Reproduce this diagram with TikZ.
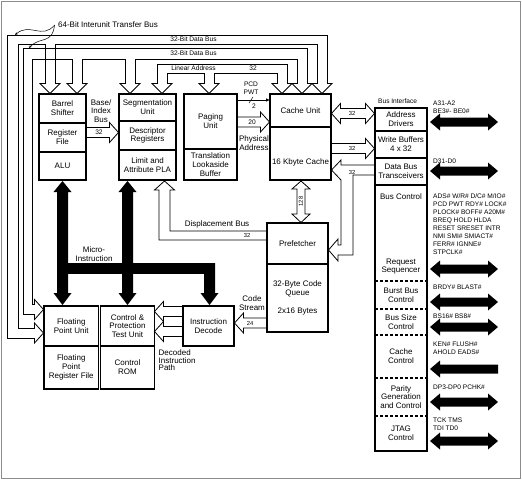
\documentclass[tikz,border=0pt]{standalone}
\usepackage{fontspec}
\setmainfont{Liberation Sans}
\usetikzlibrary{arrows.meta}

\newcommand{\lbl}{\fontsize{8}{8.8}\selectfont}
\newcommand{\sml}{\fontsize{6.6}{8.1}\selectfont}
\newcommand{\tny}{\fontsize{5.8}{6.5}\selectfont}

% hollow bus arrows, all numbers in px of the sheet
\newcommand{\headdown}[2]{\draw[bus] (#1-5,#2-10) -- (#1-10,#2-10) -- (#1,#2) -- (#1+10,#2-10) -- (#1+5,#2-10);}
\newcommand{\hright}[3]{\draw[bus] (#1,#3-5) -- (#2-9,#3-5) -- (#2-9,#3-10) -- (#2,#3) -- (#2-9,#3+10) -- (#2-9,#3+5) -- (#1,#3+5);}
\newcommand{\hleft}[3]{\draw[bus] (#1,#3-5) -- (#2+9,#3-5) -- (#2+9,#3-10) -- (#2,#3) -- (#2+9,#3+10) -- (#2+9,#3+5) -- (#1,#3+5);}
\newcommand{\hboth}[3]{\draw[bus] (#1,#3) -- (#1+9,#3-10) -- (#1+9,#3-5) -- (#2-9,#3-5) -- (#2-9,#3-10) -- (#2,#3) -- (#2-9,#3+10) -- (#2-9,#3+5) -- (#1+9,#3+5) -- (#1+9,#3+10) -- cycle;}
% black pin arrows
\newcommand{\sigboth}[1]{\fill (430,#1) -- (440,#1-8.5) -- (440,#1-4.5) -- (488,#1-4.5) -- (488,#1-8.5) -- (498,#1) -- (488,#1+8.5) -- (488,#1+4.5) -- (440,#1+4.5) -- (440,#1+8.5) -- cycle;}
\newcommand{\sigin}[1]{\fill (430,#1) -- (440,#1-8.5) -- (440,#1-4.5) -- (498,#1-4.5) -- (498,#1+4.5) -- (440,#1+4.5) -- (440,#1+8.5) -- cycle;}

\begin{document}
\begin{tikzpicture}[x=1pt,y=-1pt,
  box/.style={draw,line width=1.2pt,inner sep=0pt,outer sep=0pt,anchor=north west,align=center,font=\lbl},
  cell/.style={inner sep=0pt,outer sep=0pt,anchor=north west,align=center,font=\lbl},
  bus/.style={line width=0.8pt},
  sig/.style={font=\sml,anchor=west,align=left,inner sep=0pt}]

\useasboundingbox (0,0) rectangle (522,480);
\draw[black!45,line width=0.8pt] (1.5,1.5) rectangle (520.5,478.5);

% core units
\node[box,minimum width=47pt,minimum height=29pt] (barrel) at (39,94) {Barrel\\Shifter};
\node[box,minimum width=47pt,minimum height=29pt] (regfile) at (39,123) {Register\\File};
\node[box,minimum width=47pt,minimum height=28pt] (alu) at (39,152) {ALU};
\node[box,minimum width=57pt,minimum height=27pt] (seg) at (119,94) {Segmentation\\Unit};
\node[box,minimum width=57pt,minimum height=29pt] (desc) at (119,121) {Descriptor\\Registers};
\node[box,minimum width=57pt,minimum height=30pt] (pla) at (119,150) {Limit and\\Attribute PLA};
\node[box,minimum width=53pt,minimum height=55pt] (paging) at (184,94) {Paging\\Unit};
\node[box,minimum width=53pt,minimum height=31pt] (tlb) at (184,149) {Translation\\Lookaside\\Buffer};
\node[box,minimum width=61pt,minimum height=33pt] (cacheu) at (270,94) {Cache Unit};
\node[box,minimum width=61pt,minimum height=53pt] (cachek) at (270,127) {};
\node[font=\lbl] (cachektxt) at (300.5,162) {16 Kbyte Cache};
\node[box,minimum width=61pt,minimum height=41pt] (pref) at (267,223) {Prefetcher};
\node[box,minimum width=61pt,minimum height=68pt] (queue) at (267,264) {32-Byte Code\\Queue\\[10pt]2x16 Bytes};
\node[box,minimum width=54.5pt,minimum height=40pt] (fpu) at (44,306) {Floating\\Point Unit};
\node[box,minimum width=54.5pt,minimum height=43pt] (fprf) at (44,346) {Floating\\Point\\Register File};
\node[box,minimum width=54pt,minimum height=40pt] (cptu) at (100.5,306) {Control \&\\Protection\\Test Unit};
\node[box,minimum width=54pt,minimum height=43pt] (crom) at (100.5,346) {Control\\ROM};
\node[box,minimum width=51pt,minimum height=40pt] (idec) at (183,306) {Instruction\\Decode};

% bus interface column
\node[font=\sml,anchor=west,inner sep=0pt] (biu) at (378,101) {Bus Interface};
\node[cell,minimum width=52pt,minimum height=23pt] (addr) at (375,108) {Address\\Drivers};
\node[cell,minimum width=52pt,minimum height=27pt] (wbuf) at (375,131) {Write Buffers\\4 x 32};
\node[cell,minimum width=52pt,minimum height=27pt] (dbt) at (375,158) {Data Bus\\Transceivers};
\node[font=\lbl] (busctl) at (401,197) {Bus Control};
\node[font=\lbl,align=center] (reqseq) at (401,266.5) {Request\\Sequencer};
\node[cell,minimum width=52pt,minimum height=28pt] (burst) at (375,281) {Burst Bus\\Control};
\node[cell,minimum width=52pt,minimum height=26pt] (bsize) at (375,309) {Bus Size\\Control};
\node[cell,minimum width=52pt,minimum height=43pt] (cctl) at (375,335) {Cache\\Control};
\node[cell,minimum width=52pt,minimum height=38pt] (parity) at (375,378) {Parity\\Generation\\and Control};
\node[cell,minimum width=52pt,minimum height=35pt] (jtag) at (375,416) {JTAG\\Control};
\draw[line width=1.2pt] (375,108) rectangle (427,451);
\foreach \y in {131,158,185}
  \draw[line width=1.2pt] (375,\y) -- (427,\y);
\foreach \y in {281,309,335,378,416}
  \draw[line width=1.2pt,dash pattern=on 3pt off 2pt] (375,\y) -- (427,\y);

% pins
\node[sig] (pa) at (433,107) {A31-A2\\BE3\#- BE0\#};
\node[sig] (pd) at (433,161) {D31-D0};
\node[sig] (pc) at (433,224) {ADS\# W/R\# D/C\# M/IO\#\\PCD PWT RDY\# LOCK\#\\PLOCK\# BOFF\# A20M\#\\BREQ HOLD HLDA\\RESET SRESET INTR\\NMI SMI\# SMIACT\#\\FERR\# IGNNE\#\\STPCLK\#};
\node[sig] (pb) at (433,287) {BRDY\# BLAST\#};
\node[sig] (ps) at (433,316) {BS16\# BS8\#};
\node[sig] (pk) at (433,348.5) {KEN\# FLUSH\#\\AHOLD EADS\#};
\node[sig] (pp) at (433,387) {DP3-DP0 PCHK\#};
\node[sig] (pj) at (433,424) {TCK TMS\\TDI TD0};
\foreach \y in {122,171,269,302,327,402,441} {\sigboth{\y}}
\sigin{369}

% 64-bit interunit transfer bus
\node[font=\lbl] (ibus) at (108,25) {64-Bit Interunit Transfer Bus};
\draw[-{Stealth[length=3pt,width=2.5pt]},line width=0.5pt] (ibus.west) .. controls (42,40) and (30,22) .. (15,35);
\draw[-{Stealth[length=3pt,width=2.5pt]},line width=0.5pt] (ibus.west) .. controls (52,45) and (40,36) .. (29,48);
\draw[bus] (34.5,338) -- (7,338) -- (7,35) -- (327,35) -- (327,83.5);
\draw[bus] (34.5,328) -- (18,328) -- (18,44) -- (45,44) -- (45,83.5);
\draw[bus] (55,83.5) -- (55,44) -- (317,44) -- (317,83.5);
\draw[bus] (34.5,338) -- (34.5,343) -- (43.5,333) -- (34.5,323) -- (34.5,328);
\draw[bus] (34.5,314.5) -- (23,314.5) -- (23,48) -- (307,48) -- (307,83.5);
\draw[bus] (34.5,304.5) -- (32,304.5) -- (32,59) -- (72,59) -- (72,83.5);
\draw[bus] (82,83.5) -- (82,59) -- (125,59) -- (125,83.5);
\draw[bus] (135,83.5) -- (135,59) -- (297,59) -- (297,83.5);
\draw[bus] (34.5,314.5) -- (34.5,319.5) -- (43.5,309.5) -- (34.5,299.5) -- (34.5,304.5);
\node[font=\sml] (dbus1) at (193.5,39.5) {32-Bit Data Bus};
\node[font=\sml] (dbus2) at (193.5,53.5) {32-Bit Data Bus};

% linear address bus
\draw[bus] (157,83.5) -- (157,64) -- (287,64) -- (287,83.5);
\draw[bus] (167,83.5) -- (167,73) -- (204,73) -- (204,83.5);
\draw[bus] (214,83.5) -- (214,73) -- (277,73) -- (277,83.5);
\node[font=\sml] (lin) at (193.5,68.5) {Linear Address};
\node[font=\sml] (lin32) at (253,68.5) {32};
\foreach \c in {50,77,130,162,209,282,302,322} {\headdown{\c}{93.5}}

% paging to cache
\node[font=\sml,align=center] (pcd) at (251,88) {PCD\\PWT};
\draw[-{Latex[length=4pt,width=3.5pt]},line width=0.6pt] (paging.east |- 0,100) -- (cacheu.west |- 0,100);
\draw[line width=0.5pt] (249,103) -- (253,97);
\node[font=\sml] (pcd2) at (254,106) {2};
\hright{237}{269.5}{122}
\node[font=\sml] (pa20) at (252,122) {20};
\node[font=\lbl,align=center] (phys) at (254,143.5) {Physical\\Address};

% base/index bus
\hright{86}{118.5}{132.5}
\node[font=\sml] (bi32) at (99,132.5) {32};
\node[font=\lbl,align=center] (bibus) at (101,111) {Base/\\Index\\Bus};

% cache to bus interface
\hboth{331.5}{374.5}{113.5}
\node[font=\tny] (c32a) at (352,113.5) {32};
\hright{331}{374.5}{148.5}
\node[font=\tny] (c32b) at (352,148.5) {32};
\draw[bus] (374.5,165) -- (341,165) -- (341,160) -- (331.5,170) -- (341,180) -- (341,245) -- (338,245)
  -- (338,239) -- (328.5,250) -- (338,261) -- (338,255) -- (353,255) -- (353,175) -- (374.5,175);
\node[font=\tny] (c32c) at (352,172.5) {32};

% cache to prefetcher
\draw[bus] (301,181) -- (310,189) -- (305,189) -- (305,214) -- (310,214) -- (301,222.5)
  -- (292,214) -- (297,214) -- (297,189) -- (292,189) -- cycle;
\node[font=\tny,rotate=90] (c128) at (301,201.5) {128};

% displacement bus
\draw[bus] (266.5,240) -- (159,240) -- (159,190) -- (154.5,190) -- (164.5,181) -- (174.5,190)
  -- (170,190) -- (170,231) -- (266.5,231);
\node[font=\lbl] (disp) at (217,224) {Displacement Bus};
\node[font=\tny] (disp32) at (247,235.5) {32};

% code stream and decoded path
\hleft{267}{234.5}{323}
\node[font=\tny] (cs24) at (250,323) {24};
\node[font=\lbl,align=center] (cs) at (252,303.5) {Code\\Stream};
\hleft{183}{154.5}{311.5}
\hleft{183}{154.5}{331.5}
\node[font=\fontsize{8}{7.5}\selectfont,align=left,anchor=north west,inner sep=0pt] (dpath) at (158.5,349.8) {Decoded\\Instruction\\Path};

% micro-instruction bus
\fill (62.5,181) -- (71.5,192) -- (68,192) -- (68,293) -- (71.5,293) -- (62.5,305) -- (53.5,293)
  -- (57,293) -- (57,192) -- (53.5,192) -- cycle;
\fill (127.5,181) -- (136.5,192) -- (133,192) -- (133,293) -- (136.5,293) -- (127.5,305) -- (118.5,293)
  -- (122,293) -- (122,192) -- (118.5,192) -- cycle;
\fill (57,263) rectangle (215,274);
\fill (204,263) -- (215,263) -- (215,293) -- (218.5,293) -- (209.5,305) -- (200.5,293) -- (204,293) -- cycle;
\node[font=\lbl,align=center] (micro) at (94,254.5) {Micro-\\Instruction};
\end{tikzpicture}
\end{document}
